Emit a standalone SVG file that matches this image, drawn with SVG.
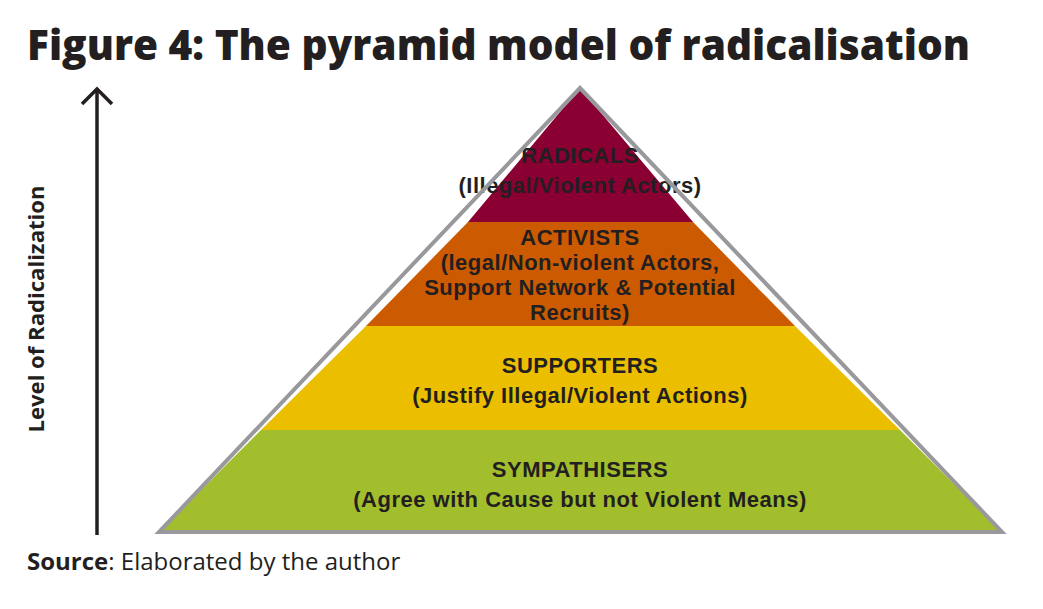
<svg xmlns="http://www.w3.org/2000/svg" width="1043" height="609" viewBox="0 0 1043 609">
<style>
.t{font-family:"Liberation Sans",Arial,sans-serif;font-weight:700;fill:#231f20;font-size:22px;text-anchor:middle;letter-spacing:0.5px}
.ax{font-family:"Open Sans","Liberation Sans",sans-serif;font-weight:700;fill:#231f20;font-size:22px;text-anchor:middle}
.title{font-family:"Open Sans","Liberation Sans",sans-serif;font-weight:800;fill:#231f20;font-size:42px}
.src{font-family:"Open Sans","Liberation Sans",sans-serif;fill:#231f20;font-size:24px}
</style>
<rect width="1043" height="609" fill="#fff"/>
<text class="title" x="27" y="60" textLength="943" lengthAdjust="spacingAndGlyphs">Figure 4: The pyramid model of radicalisation</text>
<g id="axis">
<line x1="97" y1="90" x2="97" y2="535" stroke="#231f20" stroke-width="3.5"/>
<polyline points="82,104 97,89 112,104" fill="none" stroke="#231f20" stroke-width="3.5"/>
<text class="ax" transform="translate(44,309) rotate(-90)" textLength="247" lengthAdjust="spacingAndGlyphs">Level of Radicalization</text>
</g>
<g id="pyramid">
<g id="sympathisers">
<polygon points="159,532 1002,532 900,430 261,430" fill="#a3be2c"/>
<text class="t"><tspan x="580" y="477">SYMPATHISERS</tspan><tspan x="580" y="507">(Agree with Cause but not Violent Means)</tspan></text>
</g>
<g id="supporters">
<polygon points="261,430 900,430 795,326 366,326" fill="#ebbf00"/>
<text class="t"><tspan x="580" y="373">SUPPORTERS</tspan><tspan x="580" y="403">(Justify Illegal/Violent Actions)</tspan></text>
</g>
<g id="activists">
<polygon points="366,326 795,326 693,222 468,222" fill="#cc5a00"/>
<text class="t"><tspan x="580" y="245">ACTIVISTS</tspan><tspan x="580" y="270">(legal/Non-violent Actors,</tspan><tspan x="580" y="295">Support Network &amp; Potential</tspan><tspan x="580" y="320">Recruits)</tspan></text>
</g>
<g id="radicals">
<polygon points="468,222 693,222 580,88" fill="#8a0033"/>
<text class="t"><tspan x="580" y="163">RADICALS</tspan><tspan x="580" y="193">(Illegal/Violent Actors)</tspan></text>
</g>
<polygon points="580,88 1002,532 159,532" fill="none" stroke="#99999d" stroke-width="4" stroke-linejoin="miter"/>
</g>
<text class="src" x="27" y="570"><tspan font-weight="700">Source</tspan>: Elaborated by the author</text>
</svg>
